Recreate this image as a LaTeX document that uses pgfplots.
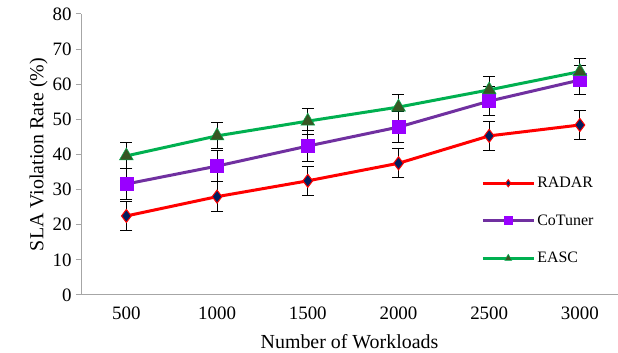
\documentclass[border=0pt]{standalone}
\usepackage{fontspec}
\setmainfont{Liberation Serif}
\usepackage{pgfplots}
\pgfplotsset{compat=1.18}
\definecolor{radarline}{RGB}{255,0,0}
\definecolor{radarfill}{RGB}{0,32,96}
\definecolor{cotline}{RGB}{112,48,160}
\definecolor{cotfill}{RGB}{153,0,255}
\definecolor{easline}{RGB}{0,176,80}
\definecolor{easfill}{RGB}{55,86,35}
\definecolor{axgray}{RGB}{166,166,166}
\begin{document}
\begin{tikzpicture}
\begin{axis}[
  name=ax,
  scale only axis,
  width=537bp, height=281bp,
  xmin=-0.5, xmax=5.42,
  ymin=0, ymax=80,
  ytick={0,10,...,80},
  xtick={0,1,2,3,4,5},
  xticklabels={500,1000,1500,2000,2500,3000},
  axis x line*=bottom,
  axis y line*=left,
  axis line style={axgray, line width=1bp, -},
  x tick style={draw=none},
  y tick style={axgray, line width=1bp},
  tick align=outside,
  major tick length=5bp,
  /pgf/number format/assume math mode=true,
  tick label style={font=\fontsize{19}{22}\selectfont, black},
  xticklabel style={yshift=-3bp},
  yticklabel style={xshift=-1bp},
  xlabel={Number of Workloads},
  ylabel={SLA Violation Rate (\%)},
  label style={font=\fontsize{20}{24}\selectfont},
  xlabel style={yshift=-8bp},
  ylabel style={yshift=-2bp},
  legend style={draw=none, fill=none, at={(0.745,0.427)}, anchor=north west,
    font=\fontsize{16}{19}\selectfont, row sep=21.5bp, inner sep=0pt},
  legend cell align=left,
  legend image code/.code={\draw[mark repeat=2,mark phase=2] plot coordinates {(0cm,0cm) (0.9cm,0cm) (1.8cm,0cm)};},
  error bars/y dir=both,
  error bars/y explicit,
  error bars/error bar style={black, line width=1bp},
  error bars/error mark options={black, line width=1bp, rotate=90, mark size=6bp},
]
\addplot[radarline, line width=3bp, mark=diamond*, mark size=6.5bp,
  mark options={fill=radarfill, draw=radarline, line width=1bp},
  legend image post style={mark size=3.5bp}]
  coordinates {(0,22.5) +- (0,4.1) (1,28.0) +- (0,4.2) (2,32.5) +- (0,4.1) (3,37.5) +- (0,4.1) (4,45.3) +- (0,4.1) (5,48.4) +- (0,4.0)};
\addlegendentry{RADAR}
\addplot[cotline, line width=3bp, mark=square*, mark size=6.5bp,
  mark options={fill=cotfill, draw=cotfill, line width=0.5bp},
  legend image post style={mark size=4bp}]
  coordinates {(0,31.6) +- (0,4.4) (1,36.7) +- (0,4.5) (2,42.4) +- (0,4.3) (3,47.8) +- (0,4.3) (4,55.2) +- (0,4.2) (5,61.2) +- (0,4.1)};
\addlegendentry{CoTuner}
\addplot[easline, line width=3bp, mark=triangle*, mark size=8bp,
  mark options={fill=easfill, draw=easline, line width=0.5bp},
  legend image post style={mark size=4bp}]
  coordinates {(0,39.6) +- (0,3.7) (1,45.3) +- (0,3.7) (2,49.5) +- (0,3.7) (3,53.5) +- (0,3.7) (4,58.4) +- (0,3.7) (5,63.6) +- (0,3.7)};
\addlegendentry{EASC}
\end{axis}
\pgfresetboundingbox
\path[use as bounding box] ([xshift=-81bp,yshift=-58bp]ax.south west) rectangle ([yshift=14bp]ax.north east);
\end{tikzpicture}
\end{document}
